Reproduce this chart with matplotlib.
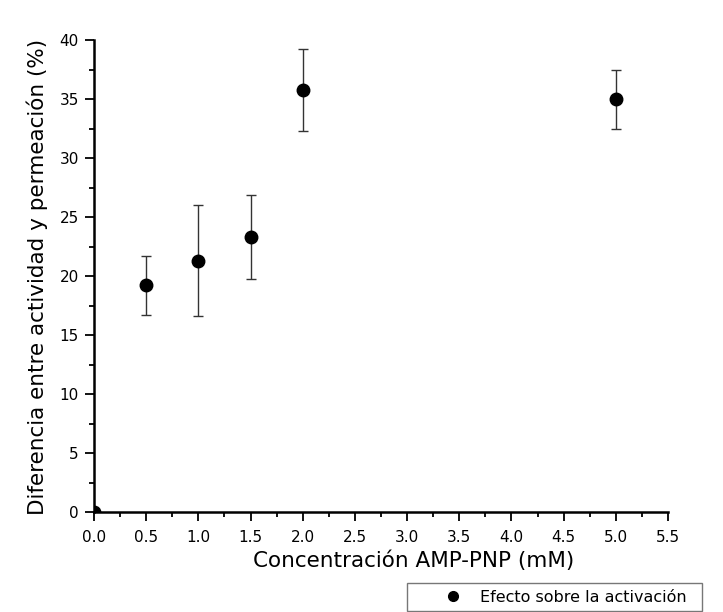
import numpy as np
import matplotlib.pyplot as plt
from matplotlib.ticker import MultipleLocator
from matplotlib.lines import Line2D

plt.rcParams['font.family'] = ['DejaVu Sans']

# data
conc = [0.0, 0.5, 1.0, 1.5, 2.0, 5.0]
diff = [0.0, 19.2, 21.3, 23.3, 35.75, 35.0]
err = [0.0, 2.5, 4.7, 3.55, 3.5, 2.5]
series_label = "Efecto sobre la activación"

W, H = 723, 612
fig = plt.figure(figsize=(W / 100, H / 100), dpi=100)
ax = fig.add_axes([94 / W, 1 - 512 / H, (668 - 94) / W, (512 - 40) / H])

ax.errorbar(conc, diff, yerr=err, fmt='o', color='black', ms=9,
            ecolor='#333333', elinewidth=1, capsize=3.5, capthick=1)

ax.set_xlim(0, 5.5)
ax.set_ylim(0, 40)
ax.xaxis.set_major_locator(MultipleLocator(0.5))
ax.xaxis.set_minor_locator(MultipleLocator(0.25))
ax.yaxis.set_major_locator(MultipleLocator(5))
ax.yaxis.set_minor_locator(MultipleLocator(2.5))
ax.xaxis.set_major_formatter(plt.FuncFormatter(lambda v, p: f"{v:.1f}"))

for s in ["top", "right"]:
    ax.spines[s].set_visible(False)
for s in ["left", "bottom"]:
    ax.spines[s].set_linewidth(1.8)

ax.tick_params(which="major", direction="out", length=6.5, width=1.3, labelsize=11)
ax.tick_params(axis="x", which="major", pad=6.5)
ax.tick_params(axis="y", which="major", pad=4.5)
ax.tick_params(which="minor", direction="out", length=3.5, width=1.3)

ax.set_xlabel("Concentración AMP-PNP (mM)", fontsize=15.5)
ax.set_ylabel("Diferencia entre actividad y permeación (%)", fontsize=15.5)
ax.xaxis.set_label_coords((414 - 94) / 574, (512 - 551) / 472)
ax.yaxis.set_label_coords((48 - 94) / 574, 0.497)

handle = Line2D([], [], marker='o', ls='', color='black', ms=7)
leg = fig.legend([handle], [series_label], loc="lower left",
                 bbox_to_anchor=(407 / W, 1 - 611 / H, (702 - 407) / W, 28 / H),
                 mode="expand", borderaxespad=0, fontsize=11.5, frameon=True,
                 fancybox=False, edgecolor="#555555", borderpad=0.4,
                 handlelength=5.0, handletextpad=-0.85)
leg.get_frame().set_linewidth(1)

fig.savefig("out.png", dpi=100, facecolor="white")
